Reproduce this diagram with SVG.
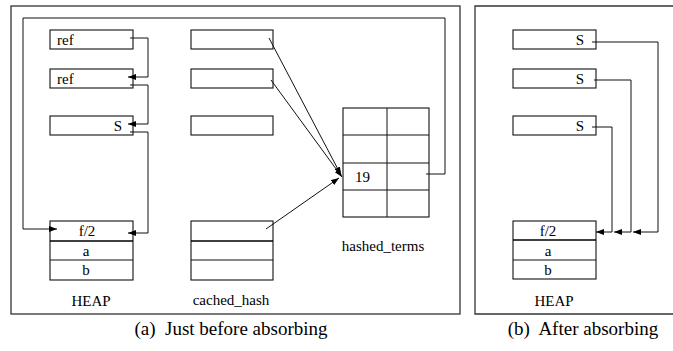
<svg xmlns="http://www.w3.org/2000/svg" width="673" height="351" viewBox="0 0 673 351">
<style>
text{font-family:"Liberation Serif","Times New Roman",serif;fill:#000}
.t{font-size:15px}
.cap{font-size:19px}
.box{fill:#fff;stroke:#111;stroke-width:1.1}
.div{stroke:#000;stroke-width:1.5}
.frame{fill:none;stroke:#333;stroke-width:1.3}
.ln{fill:none;stroke:#111;stroke-width:1}
</style>
<defs>
<marker id="ah" markerUnits="userSpaceOnUse" markerWidth="9" markerHeight="7" refX="8" refY="3" orient="auto">
<path d="M0,0 L8,3 L0,6 z" fill="#000"/>
</marker>
</defs>
<rect width="673" height="351" fill="#fff"/>
<g id="frame-a"><rect class="frame" x="11" y="6" width="449" height="308"/></g>
<g id="frame-b"><path class="frame" d="M680,6 H475 V314 H680"/></g>

<g id="heap-a-ref1"><rect class="box" x="50" y="30" width="83" height="19"/><text class="t" x="57" y="45">ref</text></g>
<g id="heap-a-ref2"><rect class="box" x="50" y="69" width="83" height="19"/><text class="t" x="57" y="84">ref</text></g>
<g id="heap-a-s"><rect class="box" x="50" y="116" width="83" height="19"/><text class="t" x="122" y="131" text-anchor="end">S</text></g>
<g id="heap-a-f2">
<rect class="box" x="50" y="221" width="83" height="59"/>
<line class="div" x1="50" y1="241" x2="133" y2="241"/>
<line class="ln" x1="50" y1="260" x2="133" y2="260"/>
<text class="t" x="87" y="236" text-anchor="middle">f/2</text>
<text class="t" x="86" y="256" text-anchor="middle">a</text>
<text class="t" x="86" y="275" text-anchor="middle">b</text>
</g>
<g id="label-heap-a"><text class="t" x="91" y="306" text-anchor="middle">HEAP</text></g>

<g id="cache1"><rect class="box" x="191" y="30" width="82" height="19"/></g>
<g id="cache2"><rect class="box" x="191" y="69" width="82" height="19"/></g>
<g id="cache3"><rect class="box" x="191" y="116" width="82" height="19"/></g>
<g id="cache-table">
<rect class="box" x="191" y="221" width="82" height="59"/>
<line class="div" x1="191" y1="241" x2="273" y2="241"/>
<line class="ln" x1="191" y1="260" x2="273" y2="260"/>
</g>
<g id="label-cached"><text class="t" x="231" y="305" text-anchor="middle">cached_hash</text></g>

<g id="hashed-terms">
<rect class="box" x="343" y="108" width="86" height="109"/>
<line class="ln" x1="387" y1="108" x2="387" y2="217" stroke-width="1.3"/>
<line class="ln" x1="343" y1="135" x2="429" y2="135" stroke-width="1.3"/>
<line class="ln" x1="343" y1="163" x2="429" y2="163" stroke-width="1.3"/>
<line class="ln" x1="343" y1="190" x2="429" y2="190" stroke-width="1.3"/>
<text class="t" x="355" y="182">19</text>
</g>
<g id="label-hashed"><text class="t" x="383" y="251" text-anchor="middle">hashed_terms</text></g>

<g id="heap-b-s1"><rect class="box" x="513" y="30" width="83" height="19"/><text class="t" x="584" y="45" text-anchor="end">S</text></g>
<g id="heap-b-s2"><rect class="box" x="513" y="69" width="83" height="19"/><text class="t" x="584" y="84" text-anchor="end">S</text></g>
<g id="heap-b-s3"><rect class="box" x="513" y="116" width="83" height="19"/><text class="t" x="584" y="131" text-anchor="end">S</text></g>
<g id="heap-b-f2">
<rect class="box" x="513" y="221" width="83" height="58"/>
<line class="div" x1="513" y1="240" x2="596" y2="240"/>
<line class="ln" x1="513" y1="260" x2="596" y2="260"/>
<text class="t" x="548" y="236" text-anchor="middle">f/2</text>
<text class="t" x="548" y="256" text-anchor="middle">a</text>
<text class="t" x="548" y="275" text-anchor="middle">b</text>
</g>
<g id="label-heap-b"><text class="t" x="554" y="306" text-anchor="middle">HEAP</text></g>

<g id="connectors">
<path class="ln" d="M130,38 H148 V77 H128" marker-end="url(#ah)"/>
<path class="ln" d="M130,85 H148 V124 H128" marker-end="url(#ah)"/>
<path class="ln" d="M130,132 H148 V233 H128" marker-end="url(#ah)"/>
<path class="ln" d="M426,174 H445 V18 H23 V229 H57" marker-end="url(#ah)"/>
<line class="ln" x1="269" y1="38" x2="341" y2="175" marker-end="url(#ah)"/>
<line class="ln" x1="271" y1="80" x2="342" y2="177" marker-end="url(#ah)"/>
<line class="ln" x1="266" y1="229" x2="339" y2="178" marker-end="url(#ah)"/>
<path class="ln" d="M592,42 H658 V232 H633" marker-end="url(#ah)"/>
<path class="ln" d="M594,80 H631 V232 H614" marker-end="url(#ah)"/>
<path class="ln" d="M592,127 H612 V232 H596" marker-end="url(#ah)"/>
</g>

<g id="captions">
<text class="cap" x="231" y="335" text-anchor="middle" xml:space="preserve">(a)  Just before absorbing</text>
<text class="cap" x="583" y="335" text-anchor="middle" xml:space="preserve">(b)  After absorbing</text>
</g>
</svg>
